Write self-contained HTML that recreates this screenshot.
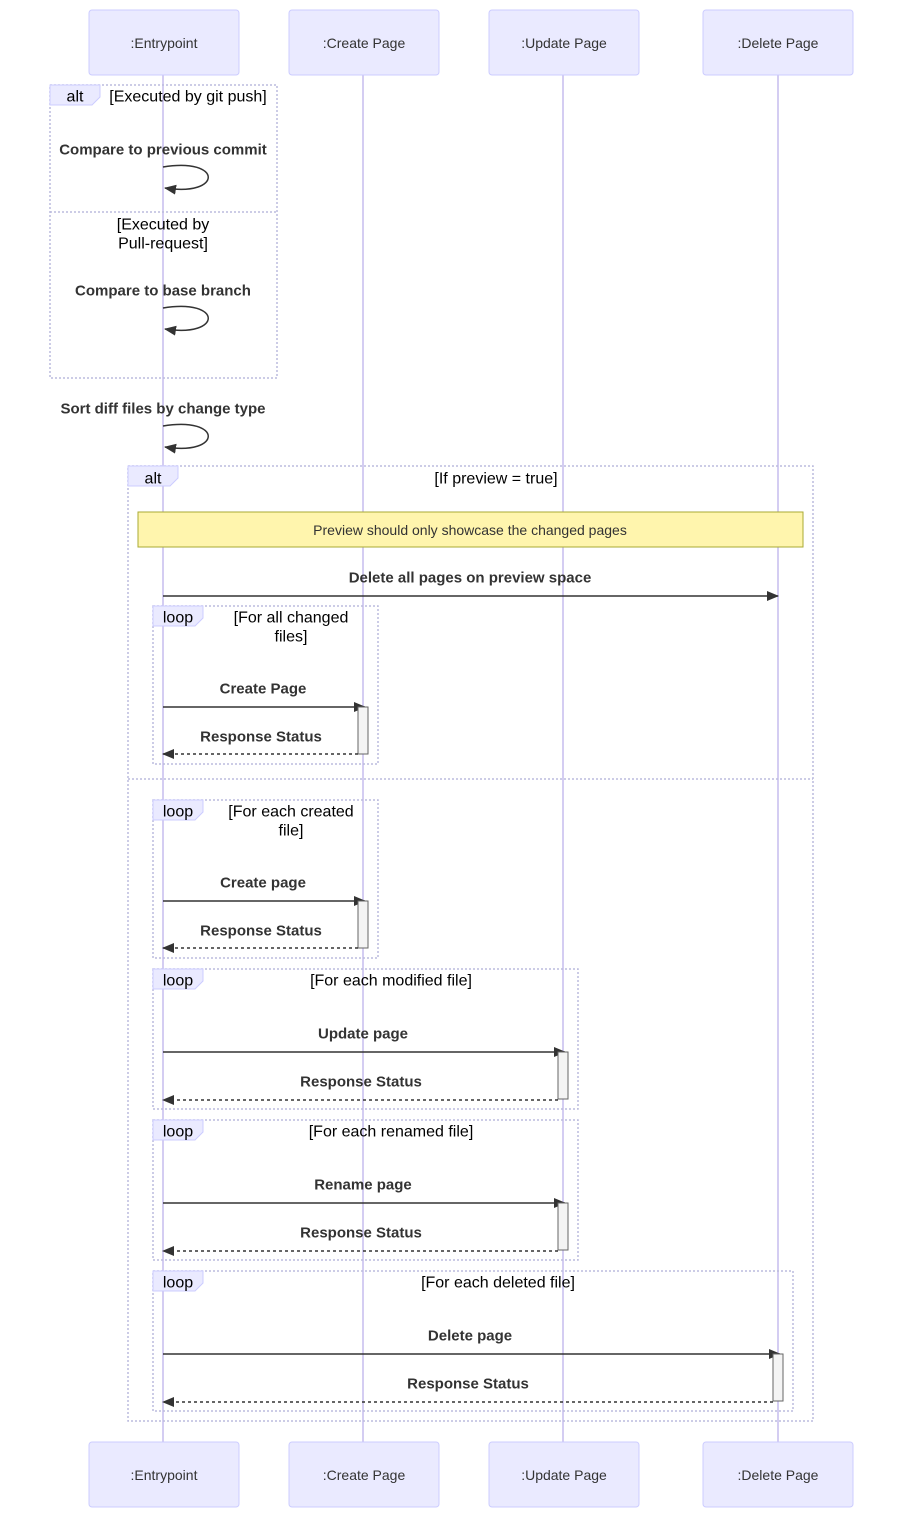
<!DOCTYPE html>
<html><head><meta charset="utf-8"><style>
html,body{margin:0;padding:0;background:#fff;}
svg{display:block;}
text{font-family:"Liberation Sans",sans-serif;}
.act{fill:#eaeaff;stroke:#ccccff;stroke-width:1;}
.at{font-size:14px;fill:#333;text-anchor:middle;dominant-baseline:central;}
.ll{stroke:#d4cdf2;stroke-width:2;}
.fr{fill:none;stroke:#bbbbdd;stroke-width:1.5;stroke-dasharray:2,2;}
.lb{fill:#eaeaff;stroke:#ccccff;}
.lt{font-size:16px;fill:#000;text-anchor:middle;dominant-baseline:central;}
.mt{font-size:15px;font-weight:bold;fill:#333;text-anchor:middle;dominant-baseline:central;}
.ms{stroke:#333;stroke-width:1.5;fill:none;}
.md{stroke:#333;stroke-width:1.5;fill:none;stroke-dasharray:3,3;}
.ac{fill:#f4f4f4;stroke:#666;}
</style></head><body>
<svg width="903" height="1518" viewBox="0 0 903 1518" xmlns="http://www.w3.org/2000/svg">
<defs>
<marker id="ah" markerWidth="12" markerHeight="12" refX="11" refY="5" orient="auto" markerUnits="userSpaceOnUse"><path d="M0,0 L12,5 L0,10 z" fill="#333"/></marker>
</defs>
<line class="ll" x1="163" y1="74" x2="163" y2="1442"/>
<line class="ll" x1="363" y1="74" x2="363" y2="1442"/>
<line class="ll" x1="563" y1="74" x2="563" y2="1442"/>
<line class="ll" x1="778" y1="74" x2="778" y2="1442"/>
<g>
<rect class="act" x="89" y="10" width="150" height="65" rx="3"/><text class="at" x="164" y="43">:Entrypoint</text>
<rect class="act" x="289" y="10" width="150" height="65" rx="3"/><text class="at" x="364" y="43">:Create Page</text>
<rect class="act" x="489" y="10" width="150" height="65" rx="3"/><text class="at" x="564" y="43">:Update Page</text>
<rect class="act" x="703" y="10" width="150" height="65" rx="3"/><text class="at" x="778" y="43">:Delete Page</text>
<rect class="act" x="89" y="1442" width="150" height="65" rx="3"/><text class="at" x="164" y="1475">:Entrypoint</text>
<rect class="act" x="289" y="1442" width="150" height="65" rx="3"/><text class="at" x="364" y="1475">:Create Page</text>
<rect class="act" x="489" y="1442" width="150" height="65" rx="3"/><text class="at" x="564" y="1475">:Update Page</text>
<rect class="act" x="703" y="1442" width="150" height="65" rx="3"/><text class="at" x="778" y="1475">:Delete Page</text>
</g>
<rect class="fr" x="50" y="85" width="227" height="293"/>
<path class="lb" d="M50,85 L100,85 L100,97 L92,105 L50,105 z"/>
<text class="lt" x="75" y="97">alt</text>
<text class="lt" x="188" y="97">[Executed by git push]</text>
<line class="fr" x1="50" y1="212" x2="277" y2="212"/>
<text class="lt" x="163" y="225">[Executed by</text>
<text class="lt" x="163" y="244">Pull-request]</text>
<text class="mt" x="163" y="150">Compare to previous commit</text>
<path class="ms" d="M163,167 C223,157 223,197 165,188" marker-end="url(#ah)"/>
<text class="mt" x="163" y="291">Compare to base branch</text>
<path class="ms" d="M163,308 C223,298 223,338 165,329" marker-end="url(#ah)"/>
<text class="mt" x="163" y="409">Sort diff files by change type</text>
<path class="ms" d="M163,426 C223,416 223,456 165,447" marker-end="url(#ah)"/>
<rect class="fr" x="128" y="466" width="685" height="955"/>
<path class="lb" d="M128,466 L178,466 L178,478 L170,486 L128,486 z"/>
<text class="lt" x="153" y="479">alt</text>
<text class="lt" x="496" y="479">[If preview = true]</text>
<line class="fr" x1="128" y1="779" x2="813" y2="779"/>
<rect x="138" y="512" width="665" height="35" fill="#fff5ad" stroke="#aaaa33"/>
<text x="470" y="530" font-size="14" fill="#333" text-anchor="middle" dominant-baseline="central">Preview should only showcase the changed pages</text>
<text class="mt" x="470" y="578">Delete all pages on preview space</text>
<line class="ms" x1="163" y1="596" x2="778" y2="596" marker-end="url(#ah)"/>
<rect class="fr" x="153" y="606" width="225" height="158"/>
<path class="lb" d="M153,606 L203,606 L203,618 L195,626 L153,626 z"/>
<text class="lt" x="178" y="618">loop</text>
<text class="lt" x="291" y="618">[For all changed</text>
<text class="lt" x="291" y="637">files]</text>
<text class="mt" x="263" y="689">Create Page</text>
<line class="ms" x1="163" y1="707" x2="365" y2="707" marker-end="url(#ah)"/>
<rect class="ac" x="358" y="707" width="10" height="47"/>
<text class="mt" x="261" y="737">Response Status</text>
<line class="md" x1="358" y1="754" x2="163" y2="754" marker-end="url(#ah)"/>
<rect class="fr" x="153" y="800" width="225" height="158"/>
<path class="lb" d="M153,800 L203,800 L203,812 L195,820 L153,820 z"/>
<text class="lt" x="178" y="812">loop</text>
<text class="lt" x="291" y="812">[For each created</text>
<text class="lt" x="291" y="831">file]</text>
<text class="mt" x="263" y="883">Create page</text>
<line class="ms" x1="163" y1="901" x2="365" y2="901" marker-end="url(#ah)"/>
<rect class="ac" x="358" y="901" width="10" height="47"/>
<text class="mt" x="261" y="931">Response Status</text>
<line class="md" x1="358" y1="948" x2="163" y2="948" marker-end="url(#ah)"/>
<rect class="fr" x="153" y="969" width="425" height="140"/>
<path class="lb" d="M153,969 L203,969 L203,981 L195,989 L153,989 z"/>
<text class="lt" x="178" y="981">loop</text>
<text class="lt" x="391" y="981">[For each modified file]</text>
<text class="mt" x="363" y="1034">Update page</text>
<line class="ms" x1="163" y1="1052" x2="565" y2="1052" marker-end="url(#ah)"/>
<rect class="ac" x="558" y="1052" width="10" height="47"/>
<text class="mt" x="361" y="1082">Response Status</text>
<line class="md" x1="558" y1="1100" x2="163" y2="1100" marker-end="url(#ah)"/>
<rect class="fr" x="153" y="1120" width="425" height="140"/>
<path class="lb" d="M153,1120 L203,1120 L203,1132 L195,1140 L153,1140 z"/>
<text class="lt" x="178" y="1132">loop</text>
<text class="lt" x="391" y="1132">[For each renamed file]</text>
<text class="mt" x="363" y="1185">Rename page</text>
<line class="ms" x1="163" y1="1203" x2="565" y2="1203" marker-end="url(#ah)"/>
<rect class="ac" x="558" y="1203" width="10" height="47"/>
<text class="mt" x="361" y="1233">Response Status</text>
<line class="md" x1="558" y1="1251" x2="163" y2="1251" marker-end="url(#ah)"/>
<rect class="fr" x="153" y="1271" width="640" height="140"/>
<path class="lb" d="M153,1271 L203,1271 L203,1283 L195,1291 L153,1291 z"/>
<text class="lt" x="178" y="1283">loop</text>
<text class="lt" x="498" y="1283">[For each deleted file]</text>
<text class="mt" x="470" y="1336">Delete page</text>
<line class="ms" x1="163" y1="1354" x2="780" y2="1354" marker-end="url(#ah)"/>
<rect class="ac" x="773" y="1354" width="10" height="47"/>
<text class="mt" x="468" y="1384">Response Status</text>
<line class="md" x1="773" y1="1402" x2="163" y2="1402" marker-end="url(#ah)"/>
</svg>
</body></html>
